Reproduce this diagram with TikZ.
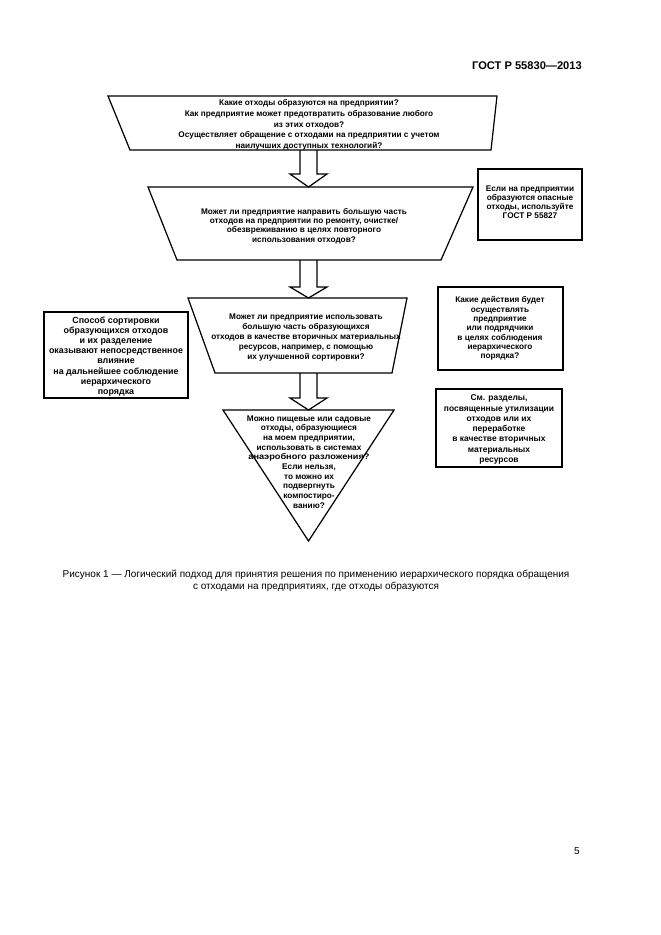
\documentclass[tikz,border=0pt]{standalone}
\usepackage{fontspec}
\setmainfont{Liberation Sans}
\usetikzlibrary{calc}
\begin{document}
\begin{tikzpicture}[x=0.9pt,y=-0.9pt,
  shapeline/.style={draw, line width=1.1pt, line join=miter},
  boxline/.style={draw, line width=1.6pt},
  txt/.style={align=center, inner sep=0pt, font=\fontsize{7.4}{9}\selectfont\bfseries},
  boxtxt/.style={align=center, inner sep=0pt, font=\fontsize{7.4}{8.4}\selectfont\bfseries},
  captiontxt/.style={align=center, inner sep=0pt, font=\fontsize{9}{11}\selectfont}]
\useasboundingbox (0,0) rectangle (661,935);
\fill[white] (0,0) rectangle (661,935);

% header
\node[anchor=east, inner sep=0pt, font=\fontsize{10}{12}\selectfont\bfseries] (hdr) at (582,66) {ГОСТ Р 55830—2013};

% shape 1
\draw[shapeline] (108,96) -- (497,96) -- (491,150) -- (130,150) -- cycle;
\node[txt, font=\fontsize{7.4}{9.7}\selectfont\bfseries] (s1) at (309,125) {Какие отходы образуются на предприятии?\\Как предприятие может предотвратить образование любого\\из этих отходов?\\Осуществляет обращение с отходами на предприятии с учетом\\наилучших доступных технологий?};

% arrow 1
\draw[shapeline] (300,150) -- (300,174) -- (290,174) -- (308.5,187) -- (327,174) -- (317,174) -- (317,150);

% shape 2
\draw[shapeline] (148,187) -- (473,187) -- (441,260) -- (177,260) -- cycle;
\node[txt, font=\fontsize{7.4}{8.5}\selectfont\bfseries] (s2) at (304,226) {Может ли предприятие направить большую часть\\отходов на предприятии по ремонту, очистке/\\обезвреживанию в целях повторного\\использования отходов?};

% arrow 2
\draw[shapeline] (300,260) -- (300,287) -- (290,287) -- (308.5,298) -- (327,287) -- (317,287) -- (317,260);

% shape 3
\draw[shapeline] (188,298) -- (407,298) -- (392,373) -- (215,373) -- cycle;
\node[txt] (s3) at (306,337.5) {Может ли предприятие использовать\\большую часть образующихся\\отходов в качестве вторичных материальных\\ресурсов, например, с помощью\\их улучшенной сортировки?};

% arrow 3
\draw[shapeline] (300,373) -- (300,398) -- (290,398) -- (308.5,410) -- (327,398) -- (317,398) -- (317,373);

% triangle
\draw[shapeline] (223,410) -- (394,410) -- (308.5,541) -- cycle;
\node[txt, font=\fontsize{7.4}{8.7}\selectfont\bfseries] (s4) at (309,462) {Можно пищевые или садовые\\отходы, образующиеся\\на моем предприятии,\\использовать в системах\\\scalebox{1.12}[1]{анаэробного разложения?}\\Если нельзя,\\то можно их\\подвергнуть\\компостиро-\\ванию?};

% box A
\draw[boxline] (478,169) rectangle (582,240);
\node[boxtxt, font=\fontsize{7.4}{8}\selectfont\bfseries] (ba) at (530,202) {Если на предприятии\\образуются опасные\\отходы, используйте\\ГОСТ Р 55827};

% box B
\draw[boxline] (438,287) rectangle (563,370);
\node[boxtxt] (bb) at (500,328.5) {Какие действия будет\\осуществлять\\предприятие\\или подрядчики\\в целях соблюдения\\иерархического\\порядка?};

% box C
\draw[boxline] (436,389) rectangle (562,467);
\node[boxtxt, font=\fontsize{7.6}{9.2}\selectfont\bfseries] (bc) at (499,429.5) {См. разделы,\\посвященные утилизации\\отходов или их\\переработке\\в качестве вторичных\\материальных\\ресурсов};

% box D
\draw[boxline] (44,312) rectangle (188,398);
\node[boxtxt, font=\fontsize{8}{9.2}\selectfont\bfseries] (bd) at (116,356.5) {Способ сортировки\\образующихся отходов\\и их разделение\\оказывают непосредственное\\влияние\\на дальнейшее соблюдение\\иерархического\\порядка};

% caption
\node[captiontxt] (capt) at (316,581) {Рисунок 1 — Логический подход для принятия решения по применению иерархического порядка обращения\\с отходами на предприятиях, где отходы образуются};

% page number
\node[inner sep=0pt, font=\fontsize{9}{11}\selectfont] (pg) at (577,851) {5};
\end{tikzpicture}
\end{document}
